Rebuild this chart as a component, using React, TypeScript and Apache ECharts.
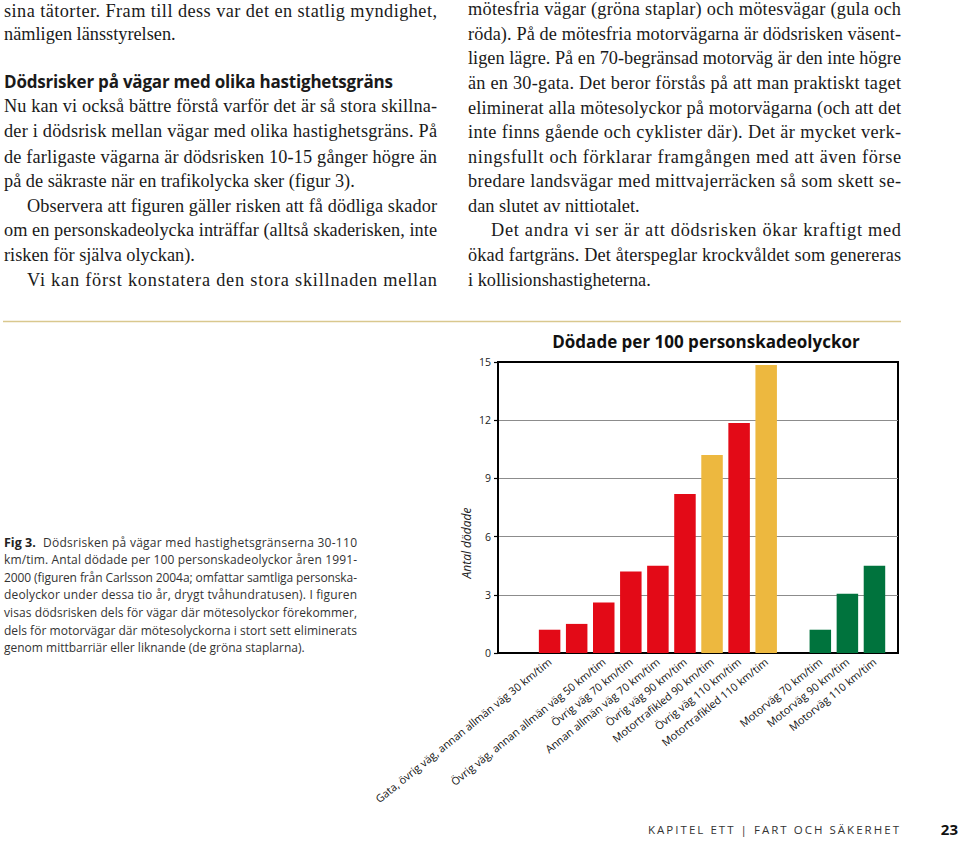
import React, { useEffect, useRef } from "react";
import * as echarts from "echarts";

// ---- chart data ----
const categories = [
  "",
  "Gata, övrig väg, annan allmän väg 30 km/tim",
  " ",
  "Övrig väg, annan allmän väg 50 km/tim",
  "Övrig väg 70 km/tim",
  "Annan allmän väg 70 km/tim",
  "Övrig väg 90 km/tim",
  "Motortrafikled 90 km/tim",
  "Övrig väg 110 km/tim",
  "Motortrafikled 110 km/tim",
  "  ",
  "Motorväg 70 km/tim",
  "Motorväg 90 km/tim",
  "Motorväg 110 km/tim",
];
const deaths: (number | null)[] = [null, 1.2, 1.5, 2.6, 4.2, 4.5, 8.2, 10.2, 11.85, 14.85, null, 1.2, 3.05, 4.5];
const roadType = ["", "möte", "möte", "möte", "möte", "möte", "möte", "motortrafikled", "möte", "motortrafikled", "", "motorväg", "motorväg", "motorväg"];
const yMin = 0;
const yMax = 15;
const yStep = 3;
const chartTitle = "Dödade per 100 personskadeolyckor";
const yName = "Antal dödade";

// ---- page text ----
const leftLines = [
  { t: "sina tätorter. Fram till dess var det en statlig myndighet,", y: 11, j: true, ind: false },
  { t: "nämligen länsstyrelsen.", y: 34, j: false, ind: false },
  { t: "Nu kan vi också bättre förstå varför det är så stora skillna-", y: 106, j: true, ind: false },
  { t: "der i dödsrisk mellan vägar med olika hastighetsgräns. På", y: 131, j: true, ind: false },
  { t: "de farligaste vägarna är dödsrisken 10-15 gånger högre än", y: 157, j: true, ind: false },
  { t: "på de säkraste när en trafikolycka sker (figur 3).", y: 181, j: false, ind: false },
  { t: "Observera att figuren gäller risken att få dödliga skador", y: 206, j: true, ind: true },
  { t: "om en personskadeolycka inträffar (alltså skaderisken, inte", y: 230, j: true, ind: false },
  { t: "risken för själva olyckan).", y: 255, j: false, ind: false },
  { t: "Vi kan först konstatera den stora skillnaden mellan", y: 280, j: true, ind: true },
];
const leftHeading = "Dödsrisker på vägar med olika hastighetsgräns";
const rightLines = [
  { t: "mötesfria vägar (gröna staplar) och mötesvägar (gula och", y: 9, j: true, ind: false },
  { t: "röda). På de mötesfria motorvägarna är dödsrisken väsent-", y: 34, j: true, ind: false },
  { t: "ligen lägre. På en 70-begränsad motorväg är den inte högre", y: 58, j: true, ind: false },
  { t: "än en 30-gata. Det beror förstås på att man praktiskt taget", y: 83, j: true, ind: false },
  { t: "eliminerat alla mötesolyckor på motorvägarna (och att det", y: 108, j: true, ind: false },
  { t: "inte finns gående och cyklister där). Det är mycket verk-", y: 132, j: true, ind: false },
  { t: "ningsfullt och förklarar framgången med att även förse", y: 157, j: true, ind: false },
  { t: "bredare landsvägar med mittvajerräcken så som skett se-", y: 181, j: true, ind: false },
  { t: "dan slutet av nittiotalet.", y: 206, j: false, ind: false },
  { t: "Det andra vi ser är att dödsrisken ökar kraftigt med", y: 230, j: true, ind: true },
  { t: "ökad fartgräns. Det återspeglar krockvåldet som genereras", y: 255, j: true, ind: false },
  { t: "i kollisionshastigheterna.", y: 280, j: false, ind: false },
];
const captionLead = "Fig 3.";
const captionLines = [
  { t: "Dödsrisken på vägar med hastighetsgränserna 30-110", j: true },
  { t: "km/tim. Antal dödade per 100 personskadeolyckor åren 1991-", j: true },
  { t: "2000 (figuren från Carlsson 2004a; omfattar samtliga personska-", j: true },
  { t: "deolyckor under dessa tio år, drygt tvåhundratusen). I figuren", j: true },
  { t: "visas dödsrisken dels för vägar där mötesolyckor förekommer,", j: true },
  { t: "dels för motorvägar där mötesolyckorna i stort sett eliminerats", j: true },
  { t: "genom mittbarriär eller liknande (de gröna staplarna).", j: false },
];
const footerText = "KAPITEL ETT | FART OCH SÄKERHET";
const pageNumber = "23";

const colors: Record<string, string> = {
  möte: "#E30A17",
  motortrafikled: "#EDB83F",
  motorväg: "#00733D",
};

const SERIF = '"Liberation Serif", serif';
const SANS = '"Open Sans", sans-serif';

export default function App() {
  const ref = useRef<HTMLDivElement>(null);
  useEffect(() => {
    if (!ref.current) return;
    const chart = echarts.init(ref.current, undefined, { renderer: "svg" });
    const widths = new Map<string, number>();
    const graphics: any[] = [];

    const colL = 4, colR = 468, colW = 433, indent = 23;
    const bodyFont = `18.3px ${SERIF}`;
    const addCol = (lines: any[], x0: number) => {
      lines.forEach((l) => {
        const x = x0 + (l.ind ? indent : 0);
        graphics.push({
          type: "text", x, y: l.y,
          style: { text: l.t, font: bodyFont, fill: "#1a1a1a", textAlign: "left", textVerticalAlign: "middle" },
        });
        if (l.j) widths.set(l.t, x0 + colW - x);
      });
    };
    addCol(leftLines, colL);
    addCol(rightLines, colR);
    graphics.push({
      type: "text", x: colL, y: 81,
      style: { text: leftHeading, font: `bold 17px ${SANS}`, fill: "#1a1a1a", textAlign: "left", textVerticalAlign: "middle" },
    });
    widths.set(leftHeading, 389);

    // rule
    graphics.push({ type: "line", shape: { x1: 3, y1: 321.5, x2: 901, y2: 321.5 }, style: { stroke: "#D9C88E", lineWidth: 1.5 } });

    // caption
    const capFont = `12px ${SANS}`;
    const capY0 = 542, capDy = 17.6, capR = 357;
    graphics.push({
      type: "text", x: 4, y: capY0,
      style: { text: captionLead, font: `bold 12.5px ${SANS}`, fill: "#222", textAlign: "left", textVerticalAlign: "middle" },
    });
    captionLines.forEach((l, i) => {
      const x = i === 0 ? 43 : 4;
      graphics.push({
        type: "text", x, y: capY0 + i * capDy,
        style: { text: l.t, font: capFont, fill: "#333", textAlign: "left", textVerticalAlign: "middle" },
      });
      if (l.j) widths.set(l.t, capR - x);
    });

    // y axis name
    graphics.push({
      type: "text", x: 466, y: 543, rotation: Math.PI / 2,
      style: { text: yName, font: `italic 12px ${SANS}`, fill: "#222", textAlign: "center", textVerticalAlign: "middle" },
    });

    // footer
    graphics.push({
      type: "text", x: 648, y: 829,
      style: { text: footerText, font: `11.5px ${SANS}`, fill: "#333", textAlign: "left", textVerticalAlign: "middle" },
    });
    widths.set(footerText, 251);
    graphics.push({
      type: "text", x: 958, y: 829,
      style: { text: pageNumber, font: `bold 15px ${SANS}`, fill: "#111", textAlign: "right", textVerticalAlign: "middle" },
    });

    const gridTop = 362, gridH = 291;
    chart.setOption({
      animation: false,
      backgroundColor: "#ffffff",
      title: {
        text: chartTitle,
        left: 701, top: 328, textAlign: "center",
        textStyle: { fontFamily: SANS, fontWeight: "bold", fontSize: 17, color: "#111" },
      },
      grid: [
        { left: 509, top: gridTop, width: 379, height: gridH, show: false },
        { left: 498, top: gridTop, width: 400, height: gridH, show: true, borderColor: "#000", borderWidth: 2, backgroundColor: "transparent" },
      ],
      xAxis: [
        {
          type: "category", gridIndex: 0, data: categories,
          axisLine: { show: false }, axisTick: { show: false },
          axisLabel: { interval: 0, rotate: 39, margin: 7, fontFamily: SANS, fontSize: 10.8, color: "#111" },
        },
        { type: "category", gridIndex: 1, show: false, data: ["a"] },
      ],
      yAxis: [
        { type: "value", gridIndex: 0, min: yMin, max: yMax, show: false },
        {
          type: "value", gridIndex: 1, min: yMin, max: yMax, interval: yStep,
          axisLine: { show: true, lineStyle: { color: "#000", width: 2 } },
          axisTick: { show: true, length: 4, lineStyle: { color: "#000", width: 1.2 } },
          axisLabel: { fontFamily: SANS, fontSize: 10.5, color: "#222", margin: 7 },
          splitLine: { show: true, showMinLine: false, showMaxLine: false, lineStyle: { color: "#8c8c8c", width: 1.2 } },
        },
      ],
      series: [
        {
          type: "bar", xAxisIndex: 0, yAxisIndex: 0, barWidth: 21.5,
          data: deaths.map((v, i) => (v == null ? "-" : { value: v, itemStyle: { color: colors[roadType[i]] } })),
        },
      ],
      graphic: { elements: graphics },
    });

    const justify = () => {
      const el = ref.current;
      if (!el) return;
      el.querySelectorAll("text").forEach((t) => {
        const w = widths.get(t.textContent || "");
        if (w) {
          t.setAttribute("textLength", String(w));
          t.setAttribute("lengthAdjust", "spacing");
        }
      });
    };
    justify();
    chart.on("finished", justify);
    const raf = requestAnimationFrame(justify);
    return () => {
      cancelAnimationFrame(raf);
      chart.dispose();
    };
  }, []);
  return <div ref={ref} style={{ position: "absolute", left: 0, top: 0, width: 960, height: 841 }} />;
}
